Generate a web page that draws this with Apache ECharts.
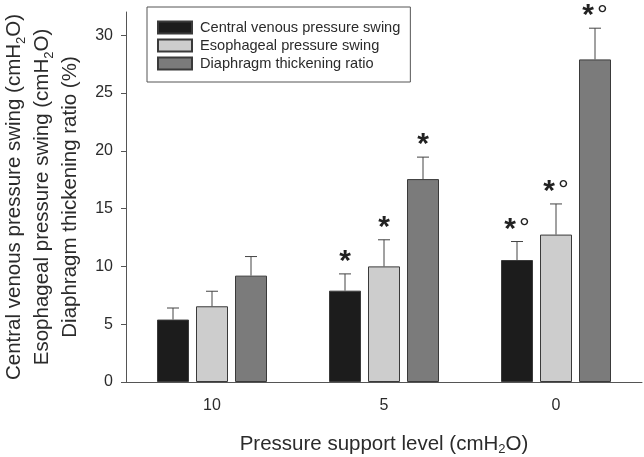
<!DOCTYPE html>
<html>
<head>
<meta charset="utf-8">
<script src="https://cdn.jsdelivr.net/npm/echarts@6/dist/echarts.min.js"></script>
<style>
  html, body { margin: 0; padding: 0; background: #fff; }
  #chart { width: 644px; height: 457px; }
</style>
</head>
<body>
<div id="chart"></div>
<script>
// pressure support levels (cmH2O)
const categories = ['10', '5', '0']
const yTicks = [0, 5, 10, 15, 20, 25, 30]

// means and upper error bar lengths
const cvpSwing = [5.4, 7.9, 10.55]
const cvpSd = [1.0, 1.45, 1.6]
const epSwing = [6.55, 10.0, 12.75]
const epSd = [1.3, 2.3, 2.65]
const dtRatio = [9.2, 17.55, 27.9]
const dtSd = [1.65, 1.9, 2.7]

// significance marks above the error bars
const cvpMarks = ['', '*', '*°']
const epMarks = ['', '*', '*°']
const dtMarks = ['', '*', '*°']

const FONT = 'Liberation Sans, Arial, sans-serif'
const TEXT = '#2b2b2b'
const AXIS = '#555'
const BAR_W = 32
const BAR_GAP = 7

const seriesDefs = [
  { name: 'Central venous pressure swing', color: '#1c1c1c', data: cvpSwing, sd: cvpSd, marks: cvpMarks },
  { name: 'Esophageal pressure swing', color: '#cdcdcd', data: epSwing, sd: epSd, marks: epMarks },
  { name: 'Diaphragm thickening ratio', color: '#7b7b7b', data: dtRatio, sd: dtSd, marks: dtMarks }
]

function errorBar (def, idx) {
  return function (params, api) {
    const i = params.dataIndex
    const offset = (idx - 1) * (BAR_W + BAR_GAP)
    const base = api.coord([i, def.data[i]])
    const top = api.coord([i, def.data[i] + def.sd[i]])
    const x = base[0] + offset
    const lineStyle = { stroke: '#444', lineWidth: 1 }
    const children = [
      { type: 'line', shape: { x1: x, y1: base[1], x2: x, y2: top[1] }, style: lineStyle },
      { type: 'line', shape: { x1: x - 6, y1: top[1], x2: x + 6, y2: top[1] }, style: lineStyle }
    ]
    const mark = def.marks[i]
    if (mark) {
      const rich = mark.length > 1 ? '{s|*}{c|°}' : '{s|*}'
      children.push({
        type: 'text',
        x: x,
        y: top[1] - 12,
        style: {
          text: rich,
          align: 'center',
          verticalAlign: 'middle',
          rich: {
            s: { fontSize: 30, fontFamily: FONT, fill: '#222', fontWeight: 'bold' },
            c: { fontSize: 27, fontFamily: FONT, fill: '#222', padding: [0, 0, 0, 3] }
          }
        }
      })
    }
    return { type: 'group', children: children }
  }
}

const barSeries = seriesDefs.map(def => ({
  name: def.name,
  type: 'bar',
  data: def.data,
  barWidth: BAR_W,
  barGap: (BAR_GAP / BAR_W * 100) + '%',
  itemStyle: { color: def.color, borderColor: '#3a3a3a', borderWidth: 1 },
  emphasis: { disabled: true }
}))

const errSeries = seriesDefs.map((def, idx) => ({
  type: 'custom',
  data: def.data.map((v, i) => [i, v + def.sd[i]]),
  renderItem: errorBar(def, idx),
  z: 5,
  silent: true
}))

const chart = echarts.init(document.getElementById('chart'), null, { renderer: 'canvas' })
chart.setOption({
  animation: false,
  textStyle: { fontFamily: FONT },
  grid: { left: 126, right: 2, top: 12, bottom: 75, containLabel: false, outerBoundsMode: 'none' },
  legend: {
    data: seriesDefs.map(d => d.name),
    orient: 'vertical',
    left: 147,
    top: 7,
    icon: 'rect',
    itemWidth: 34,
    itemHeight: 12,
    itemGap: 3,
    padding: [13, 10, 11, 10],
    borderColor: '#555',
    borderWidth: 1,
    selectedMode: false,
    textStyle: { fontFamily: FONT, fontSize: 14.6, color: TEXT, padding: [0, 0, 0, 3] }
  },
  xAxis: {
    type: 'category',
    data: categories,
    name: '{t|Pressure support level (cmH}{sub|2}{t|O)}',
    nameLocation: 'middle',
    nameGap: 50,
    nameTextStyle: {
      rich: {
        t: { fontSize: 20.5, fontFamily: FONT, color: TEXT, lineHeight: 24 },
        sub: { fontSize: 13, fontFamily: FONT, color: TEXT, lineHeight: 18, verticalAlign: 'bottom' }
      }
    },
    axisLine: { lineStyle: { color: AXIS, width: 1 } },
    axisTick: { alignWithLabel: true, length: 5, lineStyle: { color: AXIS } },
    axisLabel: { fontSize: 16, color: TEXT, margin: 16, fontFamily: FONT }
  },
  yAxis: {
    type: 'value',
    min: 0,
    max: 32,
    interval: 5,
    name: '{t|Central venous pressure swing (cmH}{sub|2}{t|O)}\n' +
      '{t|Esophageal pressure swing (cmH}{sub|2}{t|O)}\n' +
      '{t|Diaphragm thickening ratio (%)}',
    nameLocation: 'middle',
    nameGap: 42,
    nameRotate: 90,
    nameTextStyle: {
      rich: {
        t: { fontSize: 20.5, fontFamily: FONT, color: TEXT, lineHeight: 28 },
        sub: { fontSize: 13, fontFamily: FONT, color: TEXT, lineHeight: 22, verticalAlign: 'bottom' }
      }
    },
    splitLine: { show: false },
    axisLine: { show: true, lineStyle: { color: AXIS, width: 1 } },
    axisTick: { show: true, length: 5, lineStyle: { color: AXIS }, customValues: yTicks },
    axisLabel: { fontSize: 16, color: TEXT, margin: 13, fontFamily: FONT, customValues: yTicks }
  },
  series: barSeries.concat(errSeries)
})
</script>
</body>
</html>
